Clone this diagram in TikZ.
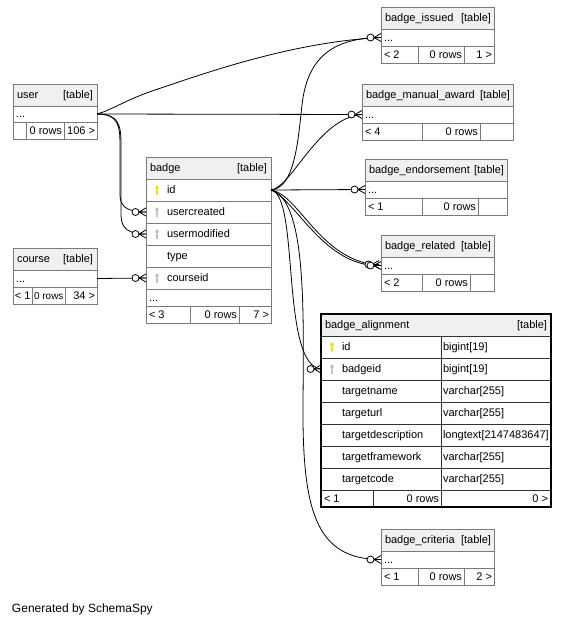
\documentclass[tikz,border=0pt]{standalone}
\usepackage{fontspec}
\setmainfont{Liberation Sans}
\definecolor{bordc}{HTML}{7A7A7A}
\definecolor{hdrc}{HTML}{F0F0F0}
\definecolor{pkc}{HTML}{F2E20A}
\definecolor{fkc}{HTML}{C4C4C4}
\newcommand\tcell[6][box]{\node[#1,minimum width=#5pt,minimum height=#6pt] (#2) at (#3,#4) {};}
\newcommand\ltext[3][4]{\node[lt] (#2-lt) at ([xshift=#1pt]#2.west) {#3};}
\newcommand\rtext[3][4]{\node[rt] (#2-rt) at ([xshift=-#1pt]#2.east) {#3};}
\newcommand\keyat[2]{\pic (#2-key) at ([xshift=11pt]#2.west) {key=#1};}
\begin{document}
\begin{tikzpicture}[x=1pt,y=-1pt,
  box/.style={draw=bordc, line width=0.8pt, fill=white, anchor=north west, inner sep=0pt, outer sep=0pt},
  head/.style={box, fill=hdrc},
  dbox/.style={box, draw=black!80},
  dhead/.style={dbox, fill=hdrc},
  txt/.style={inner sep=0pt, outer sep=0pt, font=\fontsize{11}{13}\selectfont, text height=8pt, text depth=1pt},
  lt/.style={txt, anchor=west},
  rt/.style={txt, anchor=east},
  rel/.style={draw=black, line width=0.8pt},
  pics/key/.style={code={
    \fill[#1] (0,-2.4) ellipse [x radius=1.8pt, y radius=2.1pt];
    \fill[#1] (-0.6,-1) rectangle (0.6,4.6);}},
  pics/crow/.style={code={
    \draw[rel] (-7,0) -- (0,-4) (-7,0) -- (0,0) (-7,0) -- (0,4);
    \draw[rel,fill=white] (-10.5,0) circle [radius=3.5pt];}}
]
\fill[white] (0,0) rectangle (566,625);
\useasboundingbox (0,0) rectangle (566,625);

% ---------- user
\tcell[head]{user-h}{13}{84}{84}{22}
\tcell{user-d}{13}{106}{84}{16}
\tcell{user-f1}{13}{122}{13}{17}
\tcell{user-f2}{26}{122}{38}{17}
\tcell{user-f3}{64}{122}{33}{17}
\ltext{user-h}{user}
\rtext{user-h}{[table]}
\ltext[3]{user-d}{...}
\rtext[2]{user-f2}{0 rows}
\rtext[2]{user-f3}{106 >}

% ---------- badge
\tcell[head]{badge-h}{146}{157}{125}{22}
\tcell{badge-id}{146}{179}{125}{22}
\tcell{badge-uc}{146}{201}{125}{22}
\tcell{badge-um}{146}{223}{125}{22}
\tcell{badge-ty}{146}{245}{125}{22}
\tcell{badge-cid}{146}{267}{125}{22}
\tcell{badge-d}{146}{289}{125}{17}
\tcell{badge-f1}{146}{306}{44}{17}
\tcell{badge-f2}{190}{306}{49}{17}
\tcell{badge-f3}{239}{306}{32}{17}
\ltext{badge-h}{badge}
\rtext{badge-h}{[table]}
\ltext[21]{badge-id}{id}
\ltext[21]{badge-uc}{usercreated}
\ltext[21]{badge-um}{usermodified}
\ltext[21]{badge-ty}{type}
\ltext[21]{badge-cid}{courseid}
\keyat{pkc}{badge-id}
\keyat{fkc}{badge-uc}
\keyat{fkc}{badge-um}
\keyat{fkc}{badge-cid}
\ltext[3]{badge-d}{...}
\ltext[3]{badge-f1}{< 3}
\rtext[2]{badge-f2}{0 rows}
\rtext[2]{badge-f3}{7 >}

% ---------- course
\tcell[head]{course-h}{13}{248}{84}{22}
\tcell{course-d}{13}{270}{84}{17}
\tcell{course-f1}{13}{287}{19}{17}
\tcell{course-f2}{32}{287}{33}{17}
\tcell{course-f3}{65}{287}{32}{17}
\ltext{course-h}{course}
\rtext{course-h}{[table]}
\ltext[3]{course-d}{...}
\ltext[2]{course-f1}{< 1}
\node[rt, font=\fontsize{10}{12}\selectfont] (course-f2-rt) at ([xshift=-1.5pt]course-f2.east) {0 rows};
\rtext[2]{course-f3}{34 >}

% ---------- badge_issued
\tcell[head]{bi-h}{381}{7}{113}{22}
\tcell{bi-d}{381}{29}{113}{17}
\tcell{bi-f1}{381}{46}{37}{17}
\tcell{bi-f2}{418}{46}{46}{17}
\tcell{bi-f3}{464}{46}{30}{17}
\ltext{bi-h}{badge\_issued}
\rtext[3]{bi-h}{[table]}
\ltext[3]{bi-d}{...}
\ltext[3]{bi-f1}{< 2}
\rtext[2]{bi-f2}{0 rows}
\rtext[2]{bi-f3}{1 >}

% ---------- badge_manual_award
\tcell[head]{bma-h}{362}{84}{151}{22}
\tcell{bma-d}{362}{106}{151}{17}
\tcell{bma-f1}{362}{123}{60}{17}
\tcell{bma-f2}{422}{123}{58}{17}
\tcell{bma-f3}{480}{123}{33}{17}
\ltext{bma-h}{badge\_manual\_award}
\rtext[3]{bma-h}{[table]}
\ltext[3]{bma-d}{...}
\ltext[3]{bma-f1}{< 4}
\rtext[2]{bma-f2}{0 rows}

% ---------- badge_endorsement
\tcell[head]{be-h}{365}{159}{142}{22}
\tcell{be-d}{365}{181}{142}{17}
\tcell{be-f1}{365}{198}{57}{17}
\tcell{be-f2}{422}{198}{56}{17}
\tcell{be-f3}{478}{198}{29}{17}
\ltext{be-h}{badge\_endorsement}
\rtext[3]{be-h}{[table]}
\ltext[3]{be-d}{...}
\ltext[3]{be-f1}{< 1}
\rtext[2]{be-f2}{0 rows}

% ---------- badge_related
\tcell[head]{br-h}{381}{235}{113}{22}
\tcell{br-d}{381}{257}{113}{17}
\tcell{br-f1}{381}{274}{41}{17}
\tcell{br-f2}{422}{274}{48}{17}
\tcell{br-f3}{470}{274}{24}{17}
\ltext{br-h}{badge\_related}
\rtext[3]{br-h}{[table]}
\ltext[3]{br-d}{...}
\ltext[3]{br-f1}{< 2}
\rtext[2]{br-f2}{0 rows}

% ---------- badge_alignment
\tcell[dhead]{ba-h}{321}{314}{230}{22}
\tcell[dbox]{ba-id-l}{321}{336}{120}{22}
\tcell[dbox]{ba-id-r}{441}{336}{110}{22}
\tcell[dbox]{ba-bid-l}{321}{358}{120}{22}
\tcell[dbox]{ba-bid-r}{441}{358}{110}{22}
\tcell[dbox]{ba-tn-l}{321}{380}{120}{22}
\tcell[dbox]{ba-tn-r}{441}{380}{110}{22}
\tcell[dbox]{ba-tu-l}{321}{402}{120}{22}
\tcell[dbox]{ba-tu-r}{441}{402}{110}{22}
\tcell[dbox]{ba-td-l}{321}{424}{120}{22}
\tcell[dbox]{ba-td-r}{441}{424}{110}{22}
\tcell[dbox]{ba-tf-l}{321}{446}{120}{22}
\tcell[dbox]{ba-tf-r}{441}{446}{110}{22}
\tcell[dbox]{ba-tc-l}{321}{468}{120}{22}
\tcell[dbox]{ba-tc-r}{441}{468}{110}{22}
\tcell[dbox]{ba-f1}{321}{490}{52}{17}
\tcell[dbox]{ba-f2}{373}{490}{68}{17}
\tcell[dbox]{ba-f3}{441}{490}{110}{17}
\draw[line width=2.5pt, black] (ba-h.north west) rectangle (ba-f3.south east);
\ltext{ba-h}{badge\_alignment}
\rtext[4]{ba-h}{[table]}
\ltext[21]{ba-id-l}{id}
\ltext[21]{ba-bid-l}{badgeid}
\ltext[21]{ba-tn-l}{targetname}
\ltext[21]{ba-tu-l}{targeturl}
\ltext[21]{ba-td-l}{targetdescription}
\ltext[21]{ba-tf-l}{targetframework}
\ltext[21]{ba-tc-l}{targetcode}
\ltext[2]{ba-id-r}{bigint[19]}
\ltext[2]{ba-bid-r}{bigint[19]}
\ltext[2]{ba-tn-r}{varchar[255]}
\ltext[2]{ba-tu-r}{varchar[255]}
\ltext[2]{ba-td-r}{longtext[2147483647]}
\ltext[2]{ba-tf-r}{varchar[255]}
\ltext[2]{ba-tc-r}{varchar[255]}
\keyat{pkc}{ba-id-l}
\keyat{fkc}{ba-bid-l}
\ltext[3]{ba-f1}{< 1}
\rtext[2]{ba-f2}{0 rows}
\rtext[3]{ba-f3}{0 >}

% ---------- badge_criteria
\tcell[head]{bc-h}{381}{529}{113}{22}
\tcell{bc-d}{381}{551}{113}{17}
\tcell{bc-f1}{381}{568}{37}{17}
\tcell{bc-f2}{418}{568}{46}{17}
\tcell{bc-f3}{464}{568}{30}{17}
\ltext{bc-h}{badge\_criteria}
\rtext[3]{bc-h}{[table]}
\ltext[3]{bc-d}{...}
\ltext[3]{bc-f1}{< 1}
\rtext[2]{bc-f2}{0 rows}
\rtext[2]{bc-f3}{2 >}

% ---------- relationships
\draw[rel] (user-d.east) .. controls (112,110) and (125,100) .. (155,90)
  .. controls (200,75) and (290,42) .. (bi-d.west);
\draw[rel] (user-d.east) -- (bma-d.west);
\draw[rel] (user-d.east) .. controls (118,114) and (120,125) .. (120,145) -- (120,195)
  .. controls (120,207) and (128,212) .. (badge-uc.west);
\draw[rel] (user-d.east) .. controls (119,114) and (121,125) .. (121,145) -- (121,215)
  .. controls (121,229) and (129,234) .. (badge-um.west);
\draw[rel] (course-d.east) -- (badge-cid.west);
\draw[rel] (badge-id.east) .. controls (295,188) and (298,140) .. (302,105)
  .. controls (307,60) and (330,38) .. (bi-d.west);
\draw[rel] (badge-id.east) .. controls (292,187) and (318,118) .. (bma-d.west);
\draw[rel] (badge-id.east) -- (be-d.west);
\draw[rel] (badge-id.east) .. controls (300,195) and (320,262) .. (br-d.west);
\draw[rel] (badge-id.east) .. controls (296,200) and (325,268) .. (br-d.west);
\draw[rel] (badge-id.east) .. controls (300,195) and (280,365) .. (ba-bid-l.west);
\draw[rel] (badge-id.east) .. controls (305,200) and (304,300) .. (303,400)
  .. controls (302,510) and (315,559.5) .. (bc-d.west);

\pic at (bi-d.west) {crow};
\pic at (bma-d.west) {crow};
\pic at (be-d.west) {crow};
\pic at ([xshift=-2pt,yshift=1pt]br-d.west) {crow};
\pic at (br-d.west) {crow};
\pic at (ba-bid-l.west) {crow};
\pic at (bc-d.west) {crow};
\pic at (badge-uc.west) {crow};
\pic at (badge-um.west) {crow};
\pic at (badge-cid.west) {crow};

\node[lt, font=\fontsize{12}{14}\selectfont] (gen) at (12,609) {Generated by SchemaSpy};
\end{tikzpicture}
\end{document}
